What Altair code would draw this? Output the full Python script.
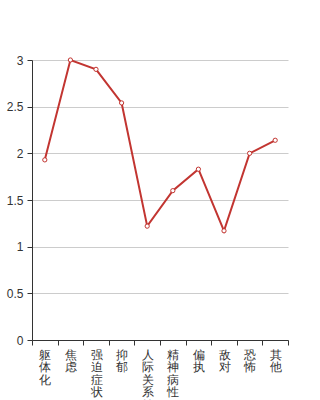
import altair as alt
import pandas as pd

categories = ["躯体化", "焦虑", "强迫症状", "抑郁", "人际关系敏感", "精神病性", "偏执", "敌对", "恐怖", "其他"]
values = [1.93, 3.0, 2.90, 2.54, 1.22, 1.60, 1.83, 1.17, 2.00, 2.14]

df = pd.DataFrame({"cat": categories, "val": values})

base = alt.Chart(df).encode(
    x=alt.X("cat:N", sort=categories, title=None,
            scale=alt.Scale(paddingInner=0, paddingOuter=0),
            axis=alt.Axis(labelAngle=0, labelExpr="split(datum.label, '')",
                          labelLineHeight=12.5, labelFontSize=12, labelColor="#333",
                          labelPadding=4, labelBaseline="top",
                          tickBand="extent", tickSize=5, tickColor="#333",
                          domainColor="#333", grid=False)),
    y=alt.Y("val:Q", title=None,
            scale=alt.Scale(domain=[0, 3]),
            axis=alt.Axis(values=[0, 0.5, 1, 1.5, 2, 2.5, 3], format="~g",
                          labelFontSize=12, labelColor="#333", labelPadding=4,
                          tickSize=5, tickColor="#333", domainColor="#333",
                          grid=True, gridColor="#ccc")),
)

line = base.mark_line(color="#c23531", strokeWidth=2)
pts = base.mark_point(shape="circle", filled=True, fill="white", stroke="#c23531",
                      strokeWidth=1, size=18, opacity=1)

chart = (line + pts).properties(
    width=256, height=280,
    padding={"left": 32, "top": 60, "right": 32, "bottom": 60},
    autosize=alt.AutoSizeParams(type="none"),
).configure_view(stroke=None).configure_axis(labelFont="sans-serif")

chart.save("out.html", embed_options={"renderer": "svg", "actions": False})
